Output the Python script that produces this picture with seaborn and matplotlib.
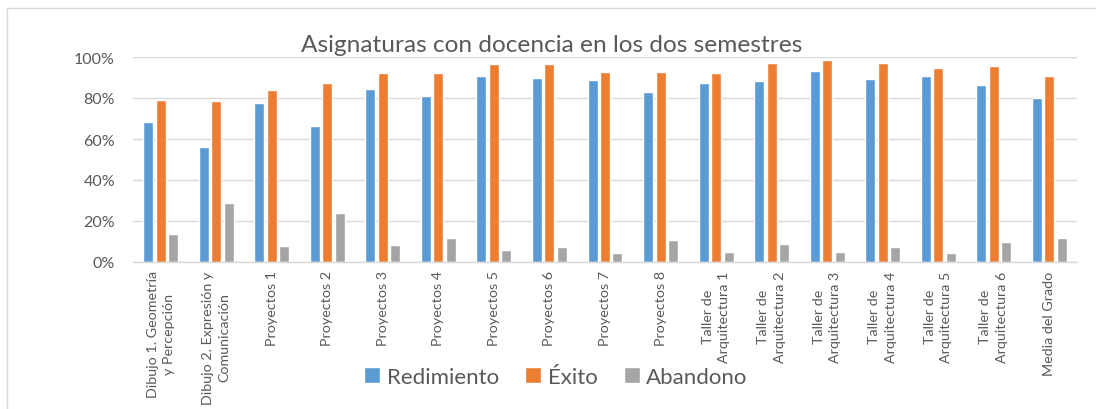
import matplotlib
matplotlib.use("Agg")
import matplotlib.pyplot as plt
import seaborn as sns
import pandas as pd
from matplotlib.lines import Line2D
from matplotlib.ticker import PercentFormatter

categories = [
    "Dibujo 1. Geometría\ny Percepción",
    "Dibujo 2. Expresión y\nComunicación",
    "Proyectos 1", "Proyectos 2", "Proyectos 3", "Proyectos 4",
    "Proyectos 5", "Proyectos 6", "Proyectos 7", "Proyectos 8",
    "Taller de\nArquitectura 1", "Taller de\nArquitectura 2",
    "Taller de\nArquitectura 3", "Taller de\nArquitectura 4",
    "Taller de\nArquitectura 5", "Taller de\nArquitectura 6",
    "Media del Grado",
]
rendimiento = [0.681, 0.559, 0.775, 0.663, 0.842, 0.811, 0.909, 0.897, 0.886,
               0.831, 0.875, 0.883, 0.933, 0.894, 0.906, 0.862, 0.801]
exito = [0.790, 0.785, 0.840, 0.873, 0.923, 0.923, 0.964, 0.967, 0.928,
         0.928, 0.920, 0.971, 0.984, 0.969, 0.945, 0.954, 0.907]
abandono = [0.138, 0.288, 0.078, 0.241, 0.085, 0.119, 0.059, 0.073, 0.044,
            0.106, 0.049, 0.090, 0.050, 0.075, 0.042, 0.098, 0.117]
series_names = ["Redimiento", "Éxito", "Abandono"]
colors = ["#5B9BD5", "#ED7D31", "#A5A5A5"]
title = "Asignaturas con docencia en los dos semestres"

rows = []
for name, vals in zip(series_names, [rendimiento, exito, abandono]):
    for c, v in zip(categories, vals):
        rows.append({"cat": c, "serie": name, "val": v})
df = pd.DataFrame(rows)

sns.set_theme(style="white")
plt.rcParams["font.family"] = ["Lato", "DejaVu Sans"]
txt = "#595959"

fig = plt.figure(figsize=(10.96, 4.10), dpi=100)
ax = fig.add_axes([133 / 1096, 1 - 263 / 410, (1077 - 133) / 1096, (263 - 58) / 410])

sns.barplot(data=df, x="cat", y="val", hue="serie", order=categories,
            hue_order=series_names, palette=colors, width=0.675, gap=0.2,
            saturation=1, ax=ax, legend=True)

ax.set_ylim(0, 1)
ax.set_xlim(-0.5, len(categories) - 0.5)
ax.set_yticks([0, 0.2, 0.4, 0.6, 0.8, 1.0])
ax.yaxis.set_major_formatter(PercentFormatter(1.0, decimals=0))
ax.grid(axis="y", color="#D9D9D9", linewidth=1)
ax.set_axisbelow(True)
for s in ["left", "right", "top"]:
    ax.spines[s].set_visible(False)
ax.spines["bottom"].set_color("#D9D9D9")
ax.spines["bottom"].set_linewidth(1)
ax.set_xlabel("")
ax.set_ylabel("")
ax.tick_params(axis="y", length=0, pad=13, labelsize=11.5, labelcolor=txt)
ax.tick_params(axis="x", length=0, pad=6, labelsize=10.3, labelcolor=txt)
for lab in ax.get_xticklabels():
    lab.set_rotation(90)
    lab.set_ha("center")
    lab.set_va("top")
    lab.set_multialignment("center")
    lab.set_linespacing(1.45)

fig.text(552 / 1096, 1 - 45 / 410, title, ha="center", va="center",
         fontsize=17.6, color=txt)

handles, labels = ax.get_legend_handles_labels()
ax.get_legend().remove()
fig.legend(handles, labels, loc="center", bbox_to_anchor=(556 / 1096, 1 - 378 / 410),
           ncol=3, frameon=False, fontsize=16, labelcolor=txt,
           handlelength=0.7, handleheight=0.7, handletextpad=0.3,
           columnspacing=1.2)

fig.add_artist(Line2D([6.5 / 1096, 6.5 / 1096], [0, 1 - 9 / 410],
                      transform=fig.transFigure, color="#D9D9D9", linewidth=1))
fig.add_artist(Line2D([6.5 / 1096, 1], [1 - 9 / 410, 1 - 9 / 410],
                      transform=fig.transFigure, color="#D9D9D9", linewidth=1))

fig.savefig("out.png", dpi=100, facecolor="white")
